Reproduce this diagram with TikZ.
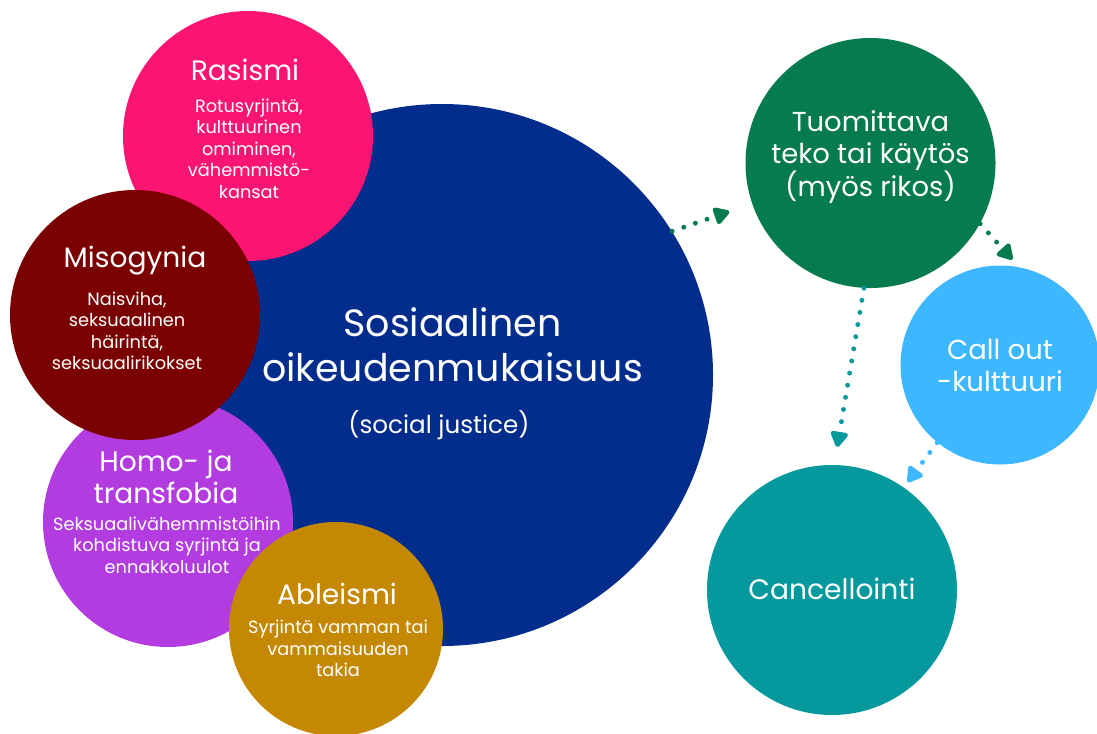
\documentclass[tikz,border=0pt]{standalone}
\usepackage{fontspec}
\setmainfont{Poppins}
\usetikzlibrary{arrows.meta}

\definecolor{navy}{HTML}{022D8C}
\definecolor{rasred}{HTML}{FB1572}
\definecolor{maroon}{HTML}{7B0000}
\definecolor{violet}{HTML}{B23CE0}
\definecolor{gold}{HTML}{C48803}
\definecolor{leaf}{HTML}{067B4D}
\definecolor{sky}{HTML}{3DB7FF}
\definecolor{teal}{HTML}{05989D}

\tikzset{
  bubble/.style={circle, draw=none, inner sep=0pt, minimum size=#1},
  head/.style={text=white, align=center, font=\fontsize{16}{18}\selectfont},
  desc/.style={text=white, align=center, font=\fontsize{10.1}{12.2}\selectfont},
  link/.style={-{Triangle[length=10pt,width=11pt,round]}, line width=2.8pt,
    dash pattern=on 0pt off 7pt, line cap=round}
}

\begin{document}
\begin{tikzpicture}
	\useasboundingbox (0,0) rectangle (21.94,-14.66);

	% circles, back to front
	\node[bubble=10.84cm, fill=navy] (sj) at (8.84,-7.50) {};
	\node[bubble=5.0cm, fill=rasred] (ras) at (4.96,-2.72) {};
	\node[bubble=5.0cm, fill=violet] (homo) at (3.36,-10.44) {};
	\node[bubble=5.0cm, fill=maroon] (mis) at (2.70,-6.30) {};
	\node[bubble=4.28cm, fill=gold] (able) at (6.72,-12.58) {};
	\node[bubble=5.0cm, fill=leaf] (tuo) at (17.41,-3.26) {};
	\node[bubble=3.98cm, fill=sky] (call) at (20.00,-7.30) {};
	\node[bubble=5.0cm, fill=teal] (can) at (16.64,-11.80) {};

	% texts
	\node[text=white, align=center, font=\fontsize{21.6}{25.8}\selectfont] (sjT) at (9.05,-6.89) {Sosiaalinen\\oikeudenmukaisuus};
	\node[text=white, font=\fontsize{14}{16}\selectfont] (sjS) at (8.78,-8.50) {(social justice)};

	\node[head] (rasT) at (4.90,-1.40) {Rasismi};
	\node[desc] (rasD) at (4.98,-2.97) {Rotusyrjintä,\\kulttuurinen\\omiminen,\\vähemmistö-\\kansat};

	\node[head] (misT) at (2.70,-5.22) {Misogynia};
	\node[desc] (misD) at (2.54,-6.62) {Naisviha,\\seksuaalinen\\häirintä,\\seksuaalirikokset};

	\node[head, font=\fontsize{16}{18.4}\selectfont] (homoT) at (3.32,-9.54) {Homo- ja\\transfobia};
	\node[desc] (homoD) at (3.34,-10.90) {Seksuaalivähemmistöihin\\kohdistuva syrjintä ja\\ennakkoluulot};

	\node[head] (ableT) at (6.74,-11.88) {Ableismi};
	\node[desc] (ableD) at (6.76,-12.97) {Syrjintä vamman tai\\vammaisuuden\\takia};

	\node[head, font=\fontsize{15.6}{18.7}\selectfont] (tuoT) at (17.41,-3.14) {Tuomittava\\teko tai käytös\\(myös rikos)};
	\node[head, font=\fontsize{15.6}{18.7}\selectfont] (callT) at (20.00,-7.31) {Call out\\-kulttuuri};
	\node[head] (canT) at (16.64,-11.78) {Cancellointi};

	% dotted arrows
	\draw[link, color=leaf, shorten >=0.48cm] (sj.32) -- (tuo.199);
	\draw[link, color=leaf, shorten >=0.2cm] (tuo.-29) -- (call.79);
	\draw[link, color=teal, shorten >=0.36cm] (tuo.-93) -- (can.89);
	\draw[link, color=sky, shorten >=0.13cm] (call.-129) -- (can.55);
\end{tikzpicture}
\end{document}
